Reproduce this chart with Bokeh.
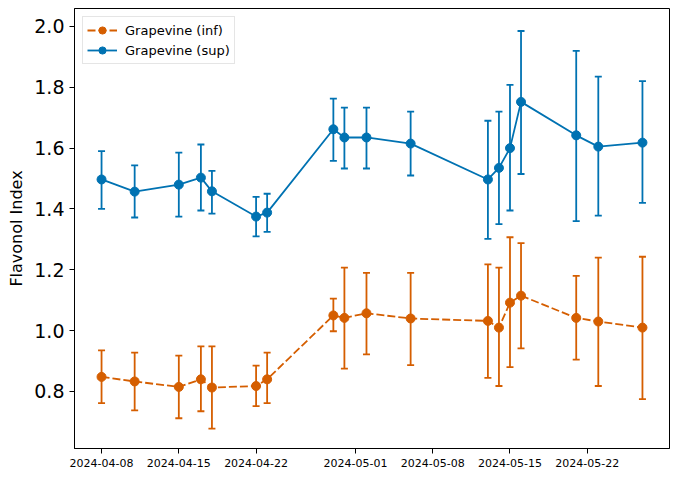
import datetime as dt
from bokeh.plotting import figure
from bokeh.models import FixedTicker, DatetimeTickFormatter, Range1d, Legend, LegendItem, NumeralTickFormatter
from bokeh.embed import file_html
from bokeh.resources import INLINE

dates = ["2024-04-08", "2024-04-11", "2024-04-15", "2024-04-17", "2024-04-18",
         "2024-04-22", "2024-04-23", "2024-04-29", "2024-04-30", "2024-05-02",
         "2024-05-06", "2024-05-13", "2024-05-14", "2024-05-15", "2024-05-16",
         "2024-05-21", "2024-05-23", "2024-05-27"]

sup_mean = [1.497, 1.457, 1.480, 1.503, 1.458, 1.375, 1.388, 1.662, 1.635, 1.635,
            1.615, 1.497, 1.535, 1.600, 1.752, 1.642, 1.605, 1.618]
sup_lo = [1.400, 1.372, 1.375, 1.395, 1.385, 1.310, 1.325, 1.558, 1.533, 1.533,
          1.510, 1.302, 1.350, 1.395, 1.515, 1.360, 1.378, 1.420]
sup_hi = [1.590, 1.543, 1.585, 1.612, 1.525, 1.440, 1.450, 1.763, 1.733, 1.733,
          1.720, 1.690, 1.720, 1.808, 1.985, 1.920, 1.835, 1.820]

inf_mean = [0.848, 0.833, 0.815, 0.840, 0.813, 0.818, 0.840, 1.050, 1.042, 1.057,
            1.040, 1.032, 1.010, 1.092, 1.115, 1.042, 1.030, 1.010]
inf_lo = [0.762, 0.738, 0.712, 0.735, 0.678, 0.752, 0.762, 0.998, 0.875, 0.922,
          0.887, 0.845, 0.818, 0.880, 0.942, 0.905, 0.818, 0.775]
inf_hi = [0.935, 0.928, 0.918, 0.948, 0.948, 0.885, 0.928, 1.105, 1.207, 1.190,
          1.190, 1.218, 1.207, 1.307, 1.288, 1.180, 1.240, 1.243]

tick_dates = ["2024-04-08", "2024-04-15", "2024-04-22", "2024-05-01",
              "2024-05-08", "2024-05-15", "2024-05-22"]
y_ticks = [0.8, 1.0, 1.2, 1.4, 1.6, 1.8, 2.0]

x = [dt.datetime.fromisoformat(d) for d in dates]
d0, d1 = x[0], x[-1]
span = d1 - d0
xr = Range1d(start=d0 - span * 0.05, end=d1 + span * 0.05)

p = figure(width=677, height=478, x_axis_type="datetime", output_backend="svg",
           toolbar_location=None, x_range=xr, y_range=Range1d(0.6126, 2.059),
           min_border_left=74, min_border_right=8, min_border_top=8, min_border_bottom=30)
p.xgrid.visible = False
p.ygrid.visible = False
p.outline_line_color = "black"
p.outline_line_width = 1
p.background_fill_color = "white"
p.border_fill_color = "white"

FONT = "DejaVu Sans"
BLUE = "#0072B2"
ORANGE = "#D55E00"

renderers = {}
for name, mean, lo, hi, col, dash in [("inf", inf_mean, inf_lo, inf_hi, ORANGE, "8 3"),
                                      ("sup", sup_mean, sup_lo, sup_hi, BLUE, "solid")]:
    p.segment(x0=x, y0=lo, x1=x, y1=hi, line_color=col, line_width=1.8)
    p.dash(x=x, y=lo, size=7, line_color=col, line_width=1.8)
    p.dash(x=x, y=hi, size=7, line_color=col, line_width=1.8)
    ln = p.line(x=x, y=mean, line_color=col, line_width=1.8, line_dash=dash)
    cr = p.scatter(x=x, y=mean, size=9, fill_color=col, line_color=col, line_width=1)
    renderers[name] = [ln, cr]

legend = Legend(items=[LegendItem(label="Grapevine (inf)", renderers=renderers["inf"]),
                       LegendItem(label="Grapevine (sup)", renderers=renderers["sup"])],
                location="top_left")
legend.label_text_font = FONT
legend.label_text_font_size = "13px"
legend.label_text_color = "black"
legend.border_line_color = "#cccccc"
legend.margin = 8
legend.padding = 4
legend.spacing = 2
legend.glyph_width = 30
legend.glyph_height = 18
legend.label_height = 18
legend.label_standoff = 8
p.add_layout(legend, "center")

xa = p.xaxis[0]
xa.ticker = FixedTicker(ticks=[dt.datetime.fromisoformat(d).timestamp() * 1000 for d in tick_dates])
fmt = "%Y-%m-%d"
xa.formatter = DatetimeTickFormatter(days=fmt, months=fmt, years=fmt, hours=fmt, minutes=fmt,
                                     seconds=fmt, milliseconds=fmt, minsec=fmt, hourmin=fmt)
xa.major_label_text_font = FONT
xa.major_label_text_font_size = "11px"
xa.major_label_text_color = "black"
xa.major_tick_out = 5
xa.major_tick_in = 0
xa.minor_tick_out = 0
xa.minor_tick_in = 0
xa.axis_line_color = "black"
xa.major_tick_line_color = "black"

ya = p.yaxis[0]
ya.ticker = FixedTicker(ticks=y_ticks)
ya.formatter = NumeralTickFormatter(format="0.0")
ya.major_label_text_font = FONT
ya.major_label_text_font_size = "19px"
ya.major_label_text_color = "black"
ya.major_tick_out = 5
ya.major_tick_in = 0
ya.minor_tick_out = 0
ya.minor_tick_in = 0
ya.axis_line_color = "black"
ya.major_tick_line_color = "black"
ya.axis_label = "Flavonol Index"
ya.axis_label_text_font = FONT
ya.axis_label_text_font_size = "16px"
ya.axis_label_text_font_style = "normal"
ya.axis_label_text_color = "black"
ya.axis_label_standoff = 5

open("out.html", "w").write(file_html(p, INLINE))
